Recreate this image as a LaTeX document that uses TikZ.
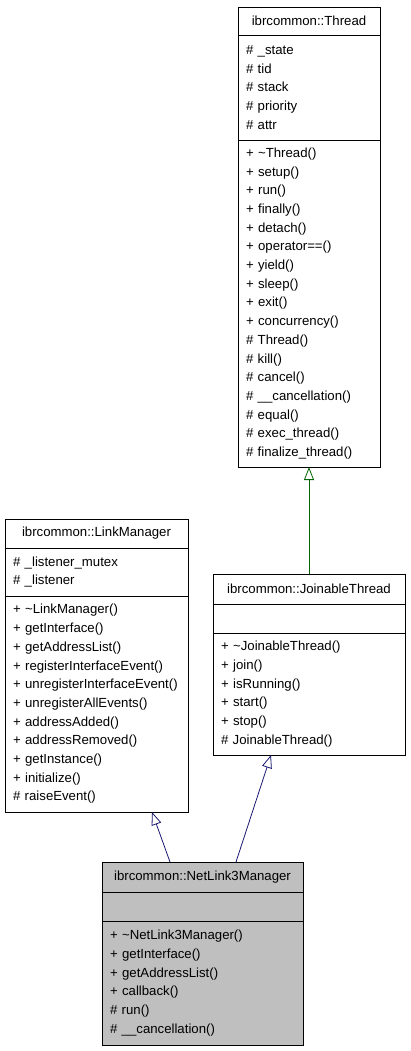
\documentclass[tikz,border=0pt]{standalone}
\usepackage{fontspec}
\setmainfont{Liberation Sans}
\usetikzlibrary{arrows.meta, positioning}
\definecolor{edgegreen}{HTML}{006400}
\definecolor{edgeblue}{HTML}{191970}
\definecolor{curclass}{HTML}{BFBFBF}

\begin{document}
\begin{tikzpicture}[x=1pt, y=-1pt,
    every node/.style={font=\fontsize{13.2}{18.7}\selectfont},
    classhead/.style={draw, line width=0.8pt, align=center, inner xsep=0pt, inner ysep=0pt, outer sep=0pt, text width=#1},
    classpart/.style={draw, line width=0.8pt, align=left, inner xsep=8pt, inner ysep=0pt, outer sep=0pt, text width=#1},
    inherit/.style={draw=#1, line width=0.8pt, -{Triangle[open, length=13pt, width=10pt]}}]
    \useasboundingbox (0,0) rectangle (411,1051);

    % Base class: Thread
    \node[classhead=142pt, minimum height=28pt, anchor=north] (thhead) at (309,7) {ibrcommon::Thread};
    \node[classpart=126pt, minimum height=105pt, below=0pt of thhead] (thattr)
        {\# \_state\\ \# tid\\ \# stack\\ \# priority\\ \# attr};
    \node[classpart=126pt, minimum height=327pt, below=0pt of thattr] (thmeth)
        {+ \textasciitilde Thread()\\ + setup()\\ + run()\\ + finally()\\ + detach()\\
         + operator==()\\ + yield()\\ + sleep()\\ + exit()\\ + concurrency()\\
         \# Thread()\\ \# kill()\\ \# cancel()\\ \# \_\_cancellation()\\ \# equal()\\
         \# exec\_thread()\\ \# finalize\_thread()};

    % JoinableThread
    \node[classhead=192pt, minimum height=30pt, anchor=north] (jthead) at (309,574) {ibrcommon::JoinableThread};
    \node[classpart=176pt, minimum height=29pt, below=0pt of jthead] (jtattr) {};
    \node[classpart=176pt, minimum height=122pt, below=0pt of jtattr] (jtmeth)
        {+ \textasciitilde JoinableThread()\\ + join()\\ + isRunning()\\ + start()\\ + stop()\\
         \# JoinableThread()};

    % LinkManager
    \node[classhead=183pt, minimum height=29pt, anchor=north] (lmhead) at (96.5,519) {ibrcommon::LinkManager};
    \node[classpart=167pt, minimum height=48pt, below=0pt of lmhead] (lmattr)
        {\# \_listener\_mutex\\ \# \_listener};
    \node[classpart=167pt, minimum height=216pt, below=0pt of lmattr] (lmmeth)
        {+ \textasciitilde LinkManager()\\ + getInterface()\\ + getAddressList()\\
         + registerInterfaceEvent()\\ + unregisterInterfaceEvent()\\ + unregisterAllEvents()\\
         + addressAdded()\\ + addressRemoved()\\ + getInstance()\\ + initialize()\\
         \# raiseEvent()};

    % NetLink3Manager (this class, grey)
    \node[classhead=201pt, minimum height=30pt, fill=curclass, anchor=north] (nlhead) at (202.5,862) {ibrcommon::NetLink3Manager};
    \node[classpart=185pt, minimum height=29pt, fill=curclass, below=0pt of nlhead] (nlattr) {};
    \node[classpart=185pt, minimum height=124pt, fill=curclass, below=0pt of nlattr] (nlmeth)
        {+ \textasciitilde NetLink3Manager()\\ + getInterface()\\ + getAddressList()\\
         + callback()\\ \# run()\\ \# \_\_cancellation()};

    % Inheritance arrows
    \draw[inherit=edgegreen] (jthead.north) -- (thmeth.south);
    \draw[inherit=edgeblue] ([xshift=-32.5pt]nlhead.north) -- ([xshift=55.5pt]lmmeth.south);
    \draw[inherit=edgeblue] ([xshift=33.5pt]nlhead.north) -- ([xshift=-38pt]jtmeth.south);
\end{tikzpicture}
\end{document}
